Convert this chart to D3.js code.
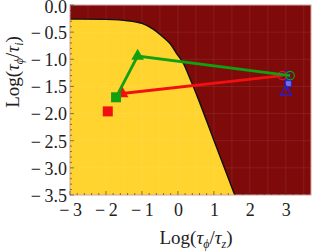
<!DOCTYPE html>
<html>
<head>
<meta charset="utf-8">
<script src="https://cdn.jsdelivr.net/npm/d3@7"></script>
<style>
  body { margin: 0; background: #fff; }
  text { font-family: "Liberation Serif", "DejaVu Serif", serif; fill: #222; }
</style>
</head>
<body>
<div id="chart"></div>
<script>
// boundary between the two regions
const boundaryX = [-3, -2, -1.4, -1, -0.7, -0.45, -0.22, -0.04, 0.15, 0.3, 0.56, 1.0, 1.58];
const boundaryY = [-0.26, -0.265, -0.29, -0.34, -0.44, -0.57, -0.71, -0.89, -1.07, -1.3, -1.72, -2.49, -3.5];

// green path: square -> triangle -> circle
const greenX = [-1.72, -1.12, 3.12];
const greenY = [-1.7, -0.94, -1.3];
// red path: circle -> triangle, plus a lone square
const redX = [2.9, -1.55];
const redY = [-1.3, -1.63];
const redSquare = [-1.95, -1.96];
// blue cluster near x = 3
const blueX = [3.0, 3.07, 3.0];
const blueY = [-1.3, -1.45, -1.6];

const xTicks = [-3, -2, -1, 0, 1, 2, 3];
const yTicks = [0, -0.5, -1, -1.5, -2, -2.5, -3, -3.5];

const width = 312, height = 252;
const margin = { top: 5, right: 1, bottom: 57, left: 70 };
const innerW = width - margin.left - margin.right;
const innerH = height - margin.top - margin.bottom;

const xScale = d3.scaleLinear().domain([-3, 3.7]).range([0, innerW]);
const yScale = d3.scaleLinear().domain([0, -3.5]).range([0, innerH]);

const svg = d3.select('#chart').append('svg')
  .attr('width', width)
  .attr('height', height);

const chart = svg.append('g')
  .attr('transform', `translate(${margin.left},${margin.top})`);

chart.append('clipPath').attr('id', 'clip')
  .append('rect').attr('width', innerW).attr('height', innerH);

const plot = chart.append('g').attr('clip-path', 'url(#clip)');

// dark region (background)
plot.append('rect')
  .attr('width', innerW).attr('height', innerH)
  .attr('fill', '#7e0a0a');

// yellow region under the boundary
const boundary = boundaryX.map((x, i) => [x, boundaryY[i]]);
const areaGen = d3.area()
  .x(d => xScale(d[0]))
  .y0(yScale(-3.5))
  .y1(d => yScale(d[1]))
  .curve(d3.curveCatmullRom.alpha(0.5));
plot.append('path')
  .datum(boundary)
  .attr('d', areaGen)
  .attr('fill', '#ffd42e');

// faint mesh lines
const gridX = d3.range(-3, 3.75, 0.5);
const gridY = d3.range(0, -3.55, -0.5);
plot.selectAll('.gx').data(gridX).join('line')
  .attr('class', 'gx')
  .attr('x1', d => xScale(d)).attr('x2', d => xScale(d))
  .attr('y1', 0).attr('y2', innerH)
  .attr('stroke', '#fff').attr('stroke-opacity', 0.08);
plot.selectAll('.gy').data(gridY).join('line')
  .attr('class', 'gy')
  .attr('y1', d => yScale(d)).attr('y2', d => yScale(d))
  .attr('x1', 0).attr('x2', innerW)
  .attr('stroke', '#fff').attr('stroke-opacity', 0.08);

// boundary line
const lineGen = d3.line()
  .x(d => xScale(d[0]))
  .y(d => yScale(d[1]))
  .curve(d3.curveCatmullRom.alpha(0.5));
plot.append('path')
  .datum(boundary)
  .attr('d', lineGen)
  .attr('fill', 'none')
  .attr('stroke', '#111')
  .attr('stroke-width', 1.4);

const straight = d3.line().x(d => xScale(d[0])).y(d => yScale(d[1]));

// blue cluster
const blue = blueX.map((x, i) => [x, blueY[i]]);
plot.append('path').datum(blue).attr('d', straight)
  .attr('fill', 'none').attr('stroke', '#2020e0').attr('stroke-width', 1);
plot.append('rect')
  .attr('x', xScale(blue[0][0]) - 4).attr('y', yScale(blue[0][1]) - 4)
  .attr('width', 8).attr('height', 8)
  .attr('fill', 'none').attr('stroke', '#2020e0').attr('stroke-width', 1.2);
plot.append('rect')
  .attr('x', xScale(blue[1][0]) - 3).attr('y', yScale(blue[1][1]) - 3)
  .attr('width', 6).attr('height', 6)
  .attr('fill', '#7070e0').attr('stroke', '#2020e0').attr('stroke-width', 1);
plot.append('path')
  .attr('d', d3.symbol(d3.symbolTriangle, 55)())
  .attr('transform', `translate(${xScale(blue[2][0])},${yScale(blue[2][1])})`)
  .attr('fill', 'none').attr('stroke', '#2020e0').attr('stroke-width', 1.2);

// red path
const red = redX.map((x, i) => [x, redY[i]]);
plot.append('path').datum(red).attr('d', straight)
  .attr('fill', 'none').attr('stroke', '#f01010').attr('stroke-width', 2.8);
plot.append('circle')
  .attr('cx', xScale(red[0][0])).attr('cy', yScale(red[0][1])).attr('r', 4.2)
  .attr('fill', 'none').attr('stroke', '#f01010').attr('stroke-width', 1.2);
plot.append('path')
  .attr('d', d3.symbol(d3.symbolTriangle, 70)())
  .attr('transform', `translate(${xScale(red[1][0])},${yScale(red[1][1])})`)
  .attr('fill', '#f01010');
plot.append('rect')
  .attr('x', xScale(redSquare[0]) - 5).attr('y', yScale(redSquare[1]) - 5)
  .attr('width', 10).attr('height', 10)
  .attr('fill', '#f01010');

// green path
const green = greenX.map((x, i) => [x, greenY[i]]);
plot.append('path').datum(green).attr('d', straight)
  .attr('fill', 'none').attr('stroke', '#10a010').attr('stroke-width', 2.8);
plot.append('rect')
  .attr('x', xScale(green[0][0]) - 5).attr('y', yScale(green[0][1]) - 5)
  .attr('width', 10).attr('height', 10)
  .attr('fill', '#10a010');
plot.append('path')
  .attr('d', d3.symbol(d3.symbolTriangle, 70)())
  .attr('transform', `translate(${xScale(green[1][0])},${yScale(green[1][1])})`)
  .attr('fill', '#10a010');
plot.append('circle')
  .attr('cx', xScale(green[2][0])).attr('cy', yScale(green[2][1])).attr('r', 4.2)
  .attr('fill', 'none').attr('stroke', '#10a010').attr('stroke-width', 1.2);

// frame
chart.append('rect')
  .attr('width', innerW).attr('height', innerH)
  .attr('fill', 'none').attr('stroke', '#d8a0a0').attr('stroke-width', 1);

// axes, labels only; tick marks drawn inside below
const fmtMinus = s => s.replace('-', '\u2212\u2009');
const xAxis = d3.axisBottom(xScale).tickValues(xTicks).tickSize(0)
  .tickFormat(d => fmtMinus(String(d)));
const yAxis = d3.axisLeft(yScale).tickValues(yTicks).tickSize(0)
  .tickFormat(d => fmtMinus(d.toFixed(1)));

const xAxisG = chart.append('g')
  .attr('transform', `translate(0,${innerH})`)
  .call(xAxis);
xAxisG.select('.domain').remove();
xAxisG.selectAll('text')
  .attr('dy', '0.95em').attr('y', 4)
  .style('font-size', '18px');

const yAxisG = chart.append('g').call(yAxis);
yAxisG.select('.domain').remove();
yAxisG.selectAll('text')
  .attr('x', -3).attr('dy', '0.35em')
  .attr('y', d => d === 0 ? 1.5 : 0)
  .style('font-size', '18px');

// small tick marks inside the frame
const xMinor = d3.range(-3, 3.71, 0.2);
chart.append('g').selectAll('line').data(xMinor).join('line')
  .attr('x1', d => xScale(d)).attr('x2', d => xScale(d))
  .attr('y1', innerH).attr('y2', d => innerH - (Math.abs(d - Math.round(d)) < 1e-6 ? 4 : 2))
  .attr('stroke', '#333').attr('stroke-width', 0.6);
const yMinor = d3.range(0, -3.51, -0.1);
chart.append('g').selectAll('line').data(yMinor).join('line')
  .attr('y1', d => yScale(d)).attr('y2', d => yScale(d))
  .attr('x1', 0).attr('x2', d => (Math.abs(d * 2 - Math.round(d * 2)) < 1e-6 ? 4 : 2))
  .attr('stroke', '#333').attr('stroke-width', 0.6);

// axis titles
function addTitle(sel, sub) {
  sel.append('tspan').text('Log(');
  sel.append('tspan').text('\u03c4').style('font-style', 'italic');
  sel.append('tspan').text('\u03d5').style('font-style', 'italic')
    .attr('dy', 4).style('font-size', '12px');
  sel.append('tspan').text('/').attr('dy', -4);
  sel.append('tspan').text('\u03c4').style('font-style', 'italic');
  sel.append('tspan').text(sub).style('font-style', 'italic')
    .attr('dy', 4).style('font-size', '12px');
  sel.append('tspan').text(')').attr('dy', -4);
}

const xTitle = svg.append('text')
  .attr('x', 196)
  .attr('y', 244)
  .attr('text-anchor', 'middle')
  .style('font-size', '19px');
addTitle(xTitle, 'z');

const yTitle = svg.append('text')
  .attr('transform', 'translate(19,72) rotate(-90)')
  .attr('text-anchor', 'middle')
  .style('font-size', '19px');
addTitle(yTitle, 'i');
</script>
</body>
</html>
